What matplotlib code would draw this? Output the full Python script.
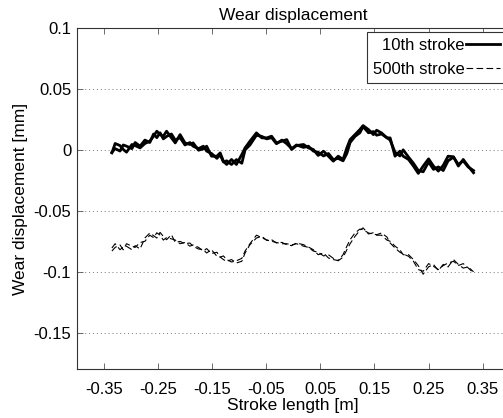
import matplotlib
matplotlib.use("Agg")
import matplotlib.pyplot as plt

plt.rcParams["font.family"] = ["Liberation Sans", "DejaVu Sans"]

# stroke position [m]
stroke = [
    -0.335, -0.329, -0.320, -0.314, -0.308, -0.298, -0.292, -0.283, -0.274, -0.265,
    -0.258, -0.252, -0.246, -0.240, -0.234, -0.225, -0.218, -0.209, -0.200, -0.191,
    -0.185, -0.175, -0.166, -0.160, -0.151, -0.141, -0.135, -0.129, -0.123, -0.114,
    -0.105, -0.095, -0.089, -0.080, -0.068, -0.058, -0.049, -0.040, -0.031, -0.021,
    -0.012, -0.003, 0.006, 0.019, 0.028, 0.037, 0.046, 0.056, 0.065, 0.074,
    0.083, 0.092, 0.099, 0.105, 0.114, 0.123, 0.129, 0.139, 0.148, 0.154,
    0.163, 0.173, 0.179, 0.188, 0.197, 0.203, 0.213, 0.222, 0.231, 0.240,
    0.250, 0.259, 0.268, 0.277, 0.286, 0.296, 0.305, 0.314, 0.323, 0.333,
]

# 10th stroke, two passes
wear_10_a = [
    -0.0025, 0.0052, 0.0035, 0.0003, -0.0019, 0.0044, 0.0035, 0.0016, 0.0052, 0.0071,
    0.0112, 0.0153, 0.0125, 0.0112, 0.0153, 0.0098, 0.0057, 0.0125, 0.0057, 0.0044,
    0.0057, -0.0003, 0.0008, 0.0030, -0.0052, -0.0052, -0.0025, -0.0093, -0.0120, -0.0079,
    -0.0120, -0.0038, 0.0016, 0.0071, 0.0139, 0.0098, 0.0098, 0.0112, 0.0057, 0.0071,
    0.0084, 0.0003, 0.0035, 0.0044, 0.0016, 0.0003, -0.0046, -0.0011, -0.0052, -0.0093,
    -0.0052, -0.0079, 0.0016, 0.0084, 0.0125, 0.0166, 0.0199, 0.0166, 0.0125, 0.0161,
    0.0139, 0.0098, 0.0098, -0.0052, -0.0011, -0.0052, -0.0079, -0.0133, -0.0193, -0.0133,
    -0.0074, -0.0133, -0.0174, -0.0128, -0.0052, -0.0057, -0.0133, -0.0079, -0.0133, -0.0188,
]
wear_10_b = [
    -0.002, 0.001, -0.001, 0.004, 0.003, 0.001, 0.006, 0.003, 0.008, 0.006,
    0.013, 0.010, 0.014, 0.009, 0.011, 0.013, 0.008, 0.010, 0.004, 0.006,
    0.003, 0.001, 0.003, -0.001, -0.003, -0.007, -0.004, -0.010, -0.009, -0.012,
    -0.008, -0.011, 0.000, 0.004, 0.012, 0.011, 0.009, 0.010, 0.005, 0.008,
    0.005, 0.001, 0.004, 0.002, 0.003, -0.001, -0.002, -0.005, -0.003, -0.008,
    -0.007, -0.009, -0.003, 0.006, 0.011, 0.014, 0.019, 0.014, 0.015, 0.012,
    0.013, 0.010, 0.008, -0.002, -0.005, 0.000, -0.006, -0.011, -0.017, -0.018,
    -0.010, -0.016, -0.014, -0.017, -0.009, -0.006, -0.012, -0.009, -0.014, -0.017,
]

# 500th stroke, two passes
wear_500_a = [
    -0.0805, -0.0770, -0.0819, -0.0797, -0.0791, -0.0819, -0.0786, -0.0813, -0.0723, -0.0682,
    -0.0704, -0.0723, -0.0677, -0.0710, -0.0737, -0.0696, -0.0759, -0.0751, -0.0770, -0.0764,
    -0.0791, -0.0813, -0.0819, -0.0846, -0.0819, -0.0873, -0.0879, -0.0900, -0.0914, -0.0900,
    -0.0928, -0.0914, -0.0846, -0.0778, -0.0723, -0.0710, -0.0742, -0.0737, -0.0764, -0.0759,
    -0.0778, -0.0786, -0.0764, -0.0778, -0.0797, -0.0819, -0.0860, -0.0846, -0.0887, -0.0900,
    -0.0908, -0.0860, -0.0791, -0.0737, -0.0682, -0.0650, -0.0655, -0.0682, -0.0691, -0.0696,
    -0.0682, -0.0715, -0.0764, -0.0805, -0.0840, -0.0854, -0.0873, -0.0914, -0.0982, -0.0996,
    -0.0933, -0.0955, -0.0982, -0.0949, -0.0928, -0.0914, -0.0949, -0.0933, -0.0968, -0.1009,
]
wear_500_b = [
    -0.0830, -0.0800, -0.0780, -0.0820, -0.0770, -0.0790, -0.0800, -0.0760, -0.0750, -0.0700,
    -0.0720, -0.0680, -0.0700, -0.0740, -0.0720, -0.0730, -0.0740, -0.0770, -0.0760, -0.0790,
    -0.0780, -0.0800, -0.0830, -0.0810, -0.0850, -0.0840, -0.0880, -0.0870, -0.0900, -0.0920,
    -0.0910, -0.0890, -0.0830, -0.0770, -0.0700, -0.0720, -0.0740, -0.0750, -0.0760, -0.0770,
    -0.0770, -0.0780, -0.0770, -0.0790, -0.0800, -0.0830, -0.0840, -0.0870, -0.0860, -0.0890,
    -0.0910, -0.0880, -0.0820, -0.0770, -0.0710, -0.0660, -0.0640, -0.0690, -0.0680, -0.0700,
    -0.0700, -0.0740, -0.0750, -0.0790, -0.0820, -0.0860, -0.0860, -0.0900, -0.0950, -0.1020,
    -0.0960, -0.0940, -0.0990, -0.0940, -0.0960, -0.0900, -0.0940, -0.0970, -0.0960, -0.1000,
]

xticks = [-0.35, -0.25, -0.15, -0.05, 0.05, 0.15, 0.25, 0.35]
yticks = [-0.15, -0.1, -0.05, 0, 0.05, 0.1]

fig = plt.figure(figsize=(5.03, 4.18), dpi=100)
# axes runs a little past the right edge, like the original export
ax = fig.add_axes([0.1525, 0.1165, 0.861, 0.8167])

ax.plot(stroke, wear_10_a, color="black", lw=2.0, label="10th stroke")
ax.plot(stroke, wear_10_b, color="black", lw=2.0)
ax.plot(stroke, wear_500_a, color="black", lw=0.8, dashes=(6, 3), label="500th stroke")
ax.plot(stroke, wear_500_b, color="black", lw=0.8, dashes=(6, 3))

ax.set_xlim(-0.4, 0.4)
ax.set_ylim(-0.18, 0.1)
ax.set_xticks(xticks)
ax.set_xticklabels([("%g" % t) for t in xticks])
ax.set_yticks(yticks)
ax.set_yticklabels([("%g" % t) for t in yticks])
ax.tick_params(direction="in", top=True, right=False, length=4, width=0.6,
               color="#555555", labelsize=12)
ax.tick_params(axis="x", pad=9)
ax.tick_params(axis="y", pad=4)
for s in ax.spines.values():
    s.set_linewidth(0.8)
    s.set_color("#333333")
ax.yaxis.grid(True, linestyle=(0, (1, 3)), color="#777777", lw=0.7)

ax.set_title("Wear displacement", fontsize=12.5, pad=6)
ax.set_xlabel("Stroke length [m]", fontsize=12.5, labelpad=1)
ax.set_ylabel("Wear displacement [mm]", fontsize=12.5, labelpad=4)

leg = ax.legend(loc="upper right", markerfirst=False, fontsize=12,
                fancybox=False, framealpha=1, edgecolor="#333333",
                handlelength=2.0, borderaxespad=0.25, labelspacing=0.55,
                handletextpad=0.1, borderpad=0.35)
leg.get_frame().set_linewidth(0.8)
for t in leg.get_texts():
    t.set_ha("right")

fig.savefig("out.png", dpi=100)
